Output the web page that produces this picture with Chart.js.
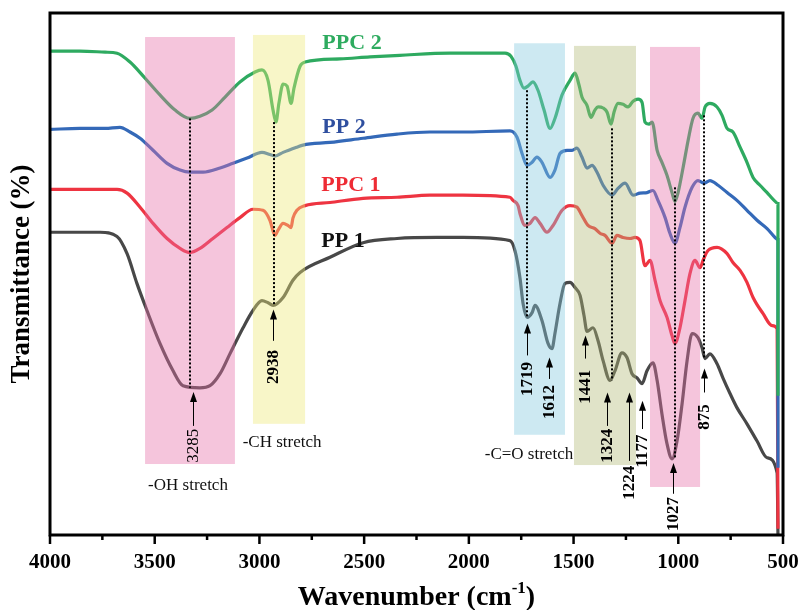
<!DOCTYPE html>
<html>
<head>
<meta charset="utf-8">
<script src="https://cdn.jsdelivr.net/npm/chart.js@4"></script>
<style>
  html, body { margin: 0; padding: 0; background: #fff; }
  #wrap { width: 802px; height: 610px; }
</style>
</head>
<body>
<div id="wrap"><canvas id="ftir"></canvas></div>
<script>
// FTIR spectra, wavenumber (cm-1) vs transmittance (offset, a.u.)
const ppc2Wn = [4000,3857,3737,3680,3618,3546,3475,3403,3332,3284,3226,3164,3093,3021,2988,2959,2935,2921,2907,2887,2868,2849,2835,2806,2782,2615,2472,2329,2090,1947,1827,1799,1775,1756,1737,1718,1694,1670,1641,1612,1589,1555,1517,1493,1474,1460,1436,1417,1398,1383,1359,1340,1321,1307,1288,1264,1240,1216,1192,1173,1159,1140,1125,1101,1078,1054,1030,1016,1001,977,953,930,906,887,872,849,815,791,767,739,705,672,643,610,576,547,524,524];
const ppc2T = [92.7,92.7,92.5,92.3,90.6,87.5,84.3,81.4,79.8,80.2,81.4,83.9,86.8,88.7,89.1,87.1,81.4,79.1,82.7,86.4,86.0,82.7,85.6,89.8,90.6,91.2,91.6,91.9,92.3,92.3,92.3,91.7,89.8,87.1,85.6,86.0,86.8,85.2,81.4,77.9,79.8,84.3,87.1,88.5,86.2,83.9,82.3,80.0,81.4,82.0,81.8,81.0,78.7,81.0,82.7,82.5,82.0,83.1,83.5,82.9,79.1,78.7,79.1,73.7,71.4,68.9,65.6,63.9,65.6,70.4,75.6,79.8,80.8,79.8,82.0,82.7,82.0,80.4,77.9,77.2,74.3,71.4,68.5,67.0,65.6,64.3,63.5,26.7];

const pp2Wn = [4000,3857,3737,3666,3618,3570,3508,3441,3379,3332,3269,3188,3126,3059,2988,2950,2926,2887,2821,2792,2663,2505,2343,2186,2028,1804,1770,1746,1722,1698,1675,1651,1612,1589,1565,1531,1507,1484,1460,1436,1412,1388,1359,1316,1288,1254,1216,1183,1149,1121,1097,1063,1040,1016,992,968,934,906,877,849,810,767,720,672,624,576,538,524,524];
const pp2T = [77.7,77.9,77.9,78.1,77.2,76.0,73.7,71.2,69.9,69.5,69.5,70.3,71.2,72.2,73.3,72.9,72.6,73.3,74.3,74.7,75.2,76.0,76.8,77.2,77.2,77.4,76.2,73.1,70.8,71.4,72.4,71.4,68.5,69.9,73.1,73.7,73.7,74.1,72.4,70.3,70.8,69.5,67.0,65.1,66.4,67.4,65.1,65.5,65.6,66.0,64.1,60.8,57.8,55.9,58.9,62.8,66.6,67.9,67.4,67.9,67.0,65.6,64.1,62.2,60.3,58.7,57.0,56.6,12.9];

const ppc1Wn = [4000,3680,3632,3570,3508,3441,3379,3332,3284,3222,3155,3093,3031,2983,2950,2926,2911,2887,2864,2849,2840,2821,2782,2663,2505,2343,2186,2028,1804,1789,1765,1756,1732,1708,1684,1660,1627,1598,1555,1517,1484,1460,1431,1398,1374,1350,1316,1293,1264,1230,1207,1183,1159,1135,1111,1087,1054,1030,1016,992,968,944,920,896,882,858,815,767,739,705,672,643,595,552,528,524];
const ppc1T = [66.2,66.2,65.5,62.8,59.7,56.8,54.9,54.1,54.9,56.8,58.9,60.8,62.4,62.2,60.3,57.4,58.4,59.7,59.3,58.9,60.7,62.2,63.1,63.7,64.5,64.7,65.1,65.1,64.7,64.1,63.1,61.6,59.3,59.7,60.8,59.7,58.0,59.3,62.2,63.1,62.8,61.2,59.3,58.7,57.8,57.4,55.9,57.4,57.0,56.8,57.0,56.4,51.6,52.6,48.8,44.9,41.7,38.2,36.7,39.7,44.9,50.1,52.6,51.2,52.6,54.5,55.1,53.9,52.2,50.7,48.4,45.5,42.4,40.1,39.5,1.2];

const pp1Wn = [4000,3761,3680,3632,3585,3537,3475,3413,3365,3284,3236,3188,3141,3078,3031,2988,2959,2935,2887,2840,2806,2663,2505,2343,2152,2028,1804,1780,1756,1741,1722,1698,1684,1651,1622,1603,1589,1565,1541,1517,1493,1469,1450,1436,1407,1383,1359,1326,1302,1269,1245,1221,1197,1173,1149,1121,1101,1078,1054,1030,1006,982,958,934,906,887,872,849,815,787,753,720,672,624,576,528,524];
const pp1T = [58.0,58.0,57.2,53.9,48.2,43.0,36.7,31.5,28.6,28.2,28.6,30.9,34.7,39.7,43.0,44.9,44.5,44.0,45.5,48.8,50.3,53.2,56.0,56.8,57.0,57.0,56.4,54.5,49.3,44.3,41.7,42.6,44.0,41.1,36.7,35.7,38.6,44.3,48.2,48.4,47.4,45.9,42.0,39.0,39.7,37.2,33.4,29.6,31.5,34.9,34.0,30.9,30.1,29.0,31.5,33.0,29.6,23.2,17.5,14.6,18.0,25.1,33.4,38.6,37.8,35.9,33.8,34.7,32.8,30.1,27.1,24.4,21.3,18.0,14.8,11.9,0];

// series names and where they sit
const seriesNames = ['PPC 2', 'PP 2', 'PPC 1', 'PP 1'];
const nameWn = [2558, 2596, 2563, 2601];
const nameT = [94.2, 78.1, 67.0, 56.2];

// shaded band regions
const bandStart = [3546, 3031, 1784, 1498, 1135];
const bandEnd = [3117, 2782, 1541, 1202, 896];
const bandTop = [95.4, 95.8, 94.2, 93.7, 93.5];
const bandBottom = [13.6, 21.3, 19.2, 13.4, 9.2];

const bandNames = ['-OH stretch', '-CH stretch', '-C=O stretch'];
const bandNameWn = [3341, 2892, 1713];
const bandNameT = [9.4, 17.8, 15.5];

// dotted guide lines
const guideWn = [3332, 2930, 1722, 1316, 1016, 877];
const guideFrom = [79.8, 79.1, 85.2, 77.9, 66.6, 80.4];
const guideTo = [28.2, 44.0, 41.5, 29.6, 14.6, 34.0];

// peak labels with arrows
const peakLabels = ['3285', '2938', '1719', '1612', '1441', '1324', '1224', '1177', '1027', '875'];
const peakWn = [3317, 2935, 1722, 1617, 1445, 1340, 1235, 1173, 1025, 877];
const arrowTip = [27.4, 43.2, 40.5, 34.0, 38.2, 27.3, 27.3, 25.7, 13.8, 31.9];
const arrowTail = [20.9, 37.2, 34.4, 29.9, 33.8, 20.9, 14.2, 20.3, 7.9, 27.3];
const peakLabelAt = [17.1, 32.2, 29.9, 25.5, 28.4, 17.1, 10.0, 16.1, 4.0, 22.6];

// x axis ticks
const xMin = 500, xMax = 4000, xMinorStep = 250, xMajorStep = 500;

const SERIF = '"Liberation Serif", "Times New Roman", serif';
const lineColors = ['#2eaa60', '#3469b8', '#ee3441', '#484848'];
const nameColors = ['#2eab5f', '#2f4f9f', '#ee2b34', '#111111'];
const bandColors = ['rgba(230,110,168,0.4)', 'rgba(238,232,118,0.4)', 'rgba(130,200,222,0.4)',
                    'rgba(177,185,117,0.4)', 'rgba(230,110,168,0.4)'];

const toPoints = (xs, ys) => xs.map((v, i) => ({ x: v, y: ys[i] }));

const ftirDecor = {
    id: 'ftirDecor',
    afterDatasetsDraw(chart) {
        const { ctx, scales: { x, y } } = chart;
        ctx.save();

        // translucent bands over the spectra
        bandStart.forEach((s, i) => {
            const x1 = x.getPixelForValue(s);
            const x2 = x.getPixelForValue(bandEnd[i]);
            const y1 = y.getPixelForValue(bandTop[i]);
            const y2 = y.getPixelForValue(bandBottom[i]);
            ctx.fillStyle = bandColors[i];
            ctx.fillRect(Math.min(x1, x2), y1, Math.abs(x2 - x1), y2 - y1);
        });

        // dotted guides
        ctx.strokeStyle = '#000';
        ctx.lineWidth = 2;
        ctx.setLineDash([2, 2]);
        guideWn.forEach((w, i) => {
            const px = Math.round(x.getPixelForValue(w));
            ctx.beginPath();
            ctx.moveTo(px, y.getPixelForValue(guideFrom[i]));
            ctx.lineTo(px, y.getPixelForValue(guideTo[i]));
            ctx.stroke();
        });
        ctx.setLineDash([]);

        // arrows + rotated peak labels
        peakLabels.forEach((txt, i) => {
            const px = Math.round(x.getPixelForValue(peakWn[i])) + 0.5;
            const tip = y.getPixelForValue(arrowTip[i]);
            const tail = y.getPixelForValue(arrowTail[i]);
            ctx.strokeStyle = '#000';
            ctx.fillStyle = '#000';
            ctx.lineWidth = 1;
            ctx.beginPath();
            ctx.moveTo(px, tail);
            ctx.lineTo(px, tip + 8);
            ctx.stroke();
            ctx.beginPath();
            ctx.moveTo(px, tip);
            ctx.lineTo(px - 3.5, tip + 10);
            ctx.lineTo(px + 3.5, tip + 10);
            ctx.closePath();
            ctx.fill();

            ctx.save();
            ctx.translate(px, y.getPixelForValue(peakLabelAt[i]));
            ctx.rotate(-Math.PI / 2);
            ctx.font = (i === 0 ? '' : 'bold ') + '17px ' + SERIF;
            ctx.textAlign = 'center';
            ctx.textBaseline = 'middle';
            ctx.fillText(txt, 0, 0);
            ctx.restore();
        });

        // band captions
        ctx.font = '17px ' + SERIF;
        ctx.textAlign = 'center';
        ctx.textBaseline = 'middle';
        ctx.fillStyle = '#111';
        bandNames.forEach((t, i) => {
            ctx.fillText(t, x.getPixelForValue(bandNameWn[i]), y.getPixelForValue(bandNameT[i]));
        });

        // series names
        ctx.font = 'bold 22px ' + SERIF;
        seriesNames.forEach((t, i) => {
            ctx.fillStyle = nameColors[i];
            ctx.fillText(t, x.getPixelForValue(nameWn[i]), y.getPixelForValue(nameT[i]));
        });
        ctx.restore();
    },
    afterDraw(chart) {
        const { ctx, chartArea: a, scales: { x } } = chart;
        ctx.save();
        ctx.strokeStyle = '#000';
        ctx.lineWidth = 3;
        ctx.strokeRect(a.left, a.top, a.right - a.left, a.bottom - a.top);

        // outward ticks and bold labels along the bottom
        ctx.lineWidth = 2.5;
        ctx.fillStyle = '#000';
        ctx.font = 'bold 21px ' + SERIF;
        ctx.textAlign = 'center';
        ctx.textBaseline = 'middle';
        for (let v = xMin; v <= xMax; v += xMinorStep) {
            const px = x.getPixelForValue(v);
            const major = v % xMajorStep === 0;
            ctx.beginPath();
            ctx.moveTo(px, a.bottom);
            ctx.lineTo(px, a.bottom + (major ? 9 : 5));
            ctx.stroke();
            if (major) ctx.fillText(String(v), px, a.bottom + 28);
        }

        // x title with superscript
        ctx.textBaseline = 'alphabetic';
        ctx.textAlign = 'left';
        const main = 'bold 28px ' + SERIF;
        const sup = 'bold 17px ' + SERIF;
        ctx.font = main;
        const w1 = ctx.measureText('Wavenumber (cm').width;
        const w3 = ctx.measureText(')').width;
        ctx.font = sup;
        const w2 = ctx.measureText('-1').width;
        const cx = (a.left + a.right) / 2;
        const sx = cx - (w1 + w2 + w3) / 2;
        const base = 605;
        ctx.font = main;
        ctx.fillText('Wavenumber (cm', sx, base);
        ctx.font = sup;
        ctx.fillText('-1', sx + w1, base - 12);
        ctx.font = main;
        ctx.fillText(')', sx + w1 + w2, base);

        // y title
        ctx.translate(22, (a.top + a.bottom) / 2);
        ctx.rotate(-Math.PI / 2);
        ctx.font = 'bold 27px ' + SERIF;
        ctx.textAlign = 'center';
        ctx.textBaseline = 'middle';
        ctx.fillText('Transmittance (%)', 0, 0);
        ctx.restore();
    }
};

const series = [
    toPoints(ppc2Wn, ppc2T),
    toPoints(pp2Wn, pp2T),
    toPoints(ppc1Wn, ppc1T),
    toPoints(pp1Wn, pp1T)
];

new Chart(document.getElementById('ftir'), {
    type: 'line',
    data: {
        datasets: series.map((pts, i) => ({
            label: seriesNames[i],
            data: pts,
            borderColor: lineColors[i],
            borderWidth: 3.2,
            pointRadius: 0,
            cubicInterpolationMode: 'monotone',
            fill: false
        }))
    },
    options: {
        responsive: true,
        maintainAspectRatio: false,
        animation: false,
        layout: { padding: { left: 50, right: 19, top: 13, bottom: 75 } },
        plugins: { legend: { display: false }, tooltip: { enabled: false } },
        scales: {
            x: { type: 'linear', display: false, reverse: true, min: xMin, max: xMax },
            y: { display: false, min: 0, max: 100 }
        }
    },
    plugins: [ftirDecor]
});
</script>
</body>
</html>
